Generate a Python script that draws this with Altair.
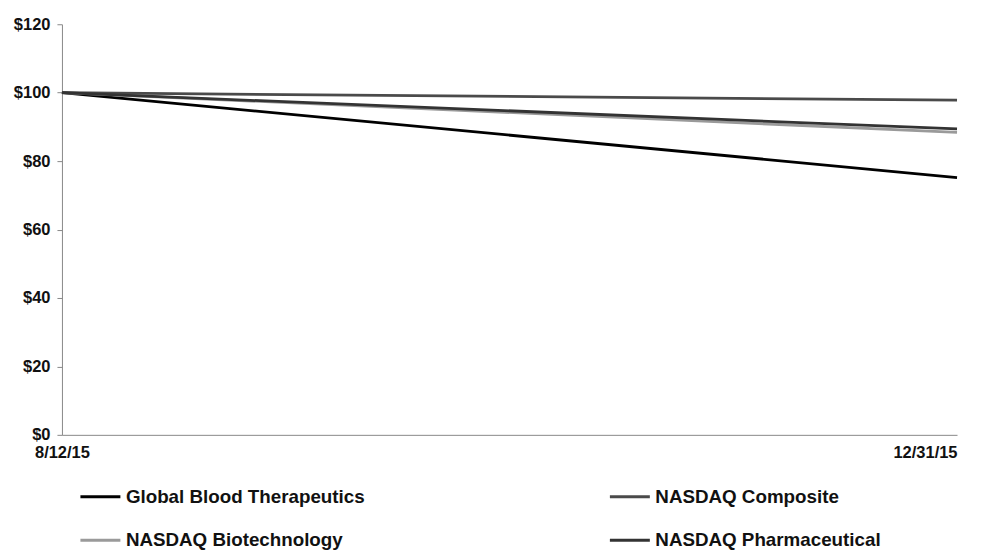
import altair as alt
import pandas as pd

dates = ["8/12/15", "12/31/15"]
series_names = ["Global Blood Therapeutics", "NASDAQ Biotechnology", "NASDAQ Composite", "NASDAQ Pharmaceutical"]
gbt = [100, 75.2]
biotech = [100, 88.4]
composite = [100, 97.8]
pharma = [100, 89.4]
colors = ["#000000", "#9a9a9a", "#4a4a4a", "#333333"]

rows = []
for name, vals in zip(series_names, [gbt, biotech, composite, pharma]):
    for d, v in zip(dates, vals):
        rows.append({"date": d, "value": v, "series": name})
df = pd.DataFrame(rows)

FONT = "Liberation Sans"

chart = alt.Chart(df).mark_line(strokeWidth=2.8).encode(
    x=alt.X("date:O", sort=dates, title=None,
            scale=alt.Scale(type="point", padding=0),
            axis=alt.Axis(labelAngle=0, labelFont=FONT, labelFontSize=16.5, labelFontWeight="bold",
                          labelColor="#111", domainColor="#888", tickColor="#888", ticks=False,
                          labelPadding=10,
                          labelAlign={"condition": {"test": "datum.value == '12/31/15'", "value": "right"},
                                      "value": "center"})),
    y=alt.Y("value:Q", title=None,
            scale=alt.Scale(domain=[0, 120], nice=False),
            axis=alt.Axis(values=[0, 20, 40, 60, 80, 100, 120], labelExpr="'$' + datum.value",
                          labelFont=FONT, labelFontSize=16.5, labelFontWeight="bold", labelColor="#111",
                          grid=False, domainColor="#888", tickColor="#888", tickSize=5, labelPadding=7)),
    color=alt.Color("series:N", sort=series_names, title=None,
                    scale=alt.Scale(domain=series_names, range=colors),
                    legend=alt.Legend(orient="none", legendX=17, legendY=451, columns=2,
                                      symbolType="stroke", symbolSize=1600, symbolStrokeWidth=3,
                                      labelFont=FONT, labelFontSize=18.8, labelFontWeight="bold",
                                      labelColor="#111", columnPadding=239, rowPadding=12,
                                      labelOffset=4, labelLimit=400, gridAlign="all")),
).properties(
    width=896, height=411,
    background="white",
    autosize=alt.AutoSizeParams(type="none"),
    padding={"left": 54, "top": 16, "right": 30, "bottom": 115},
).configure_view(stroke="transparent")

chart.save("out.html", embed_options={"renderer": "svg", "actions": False})
